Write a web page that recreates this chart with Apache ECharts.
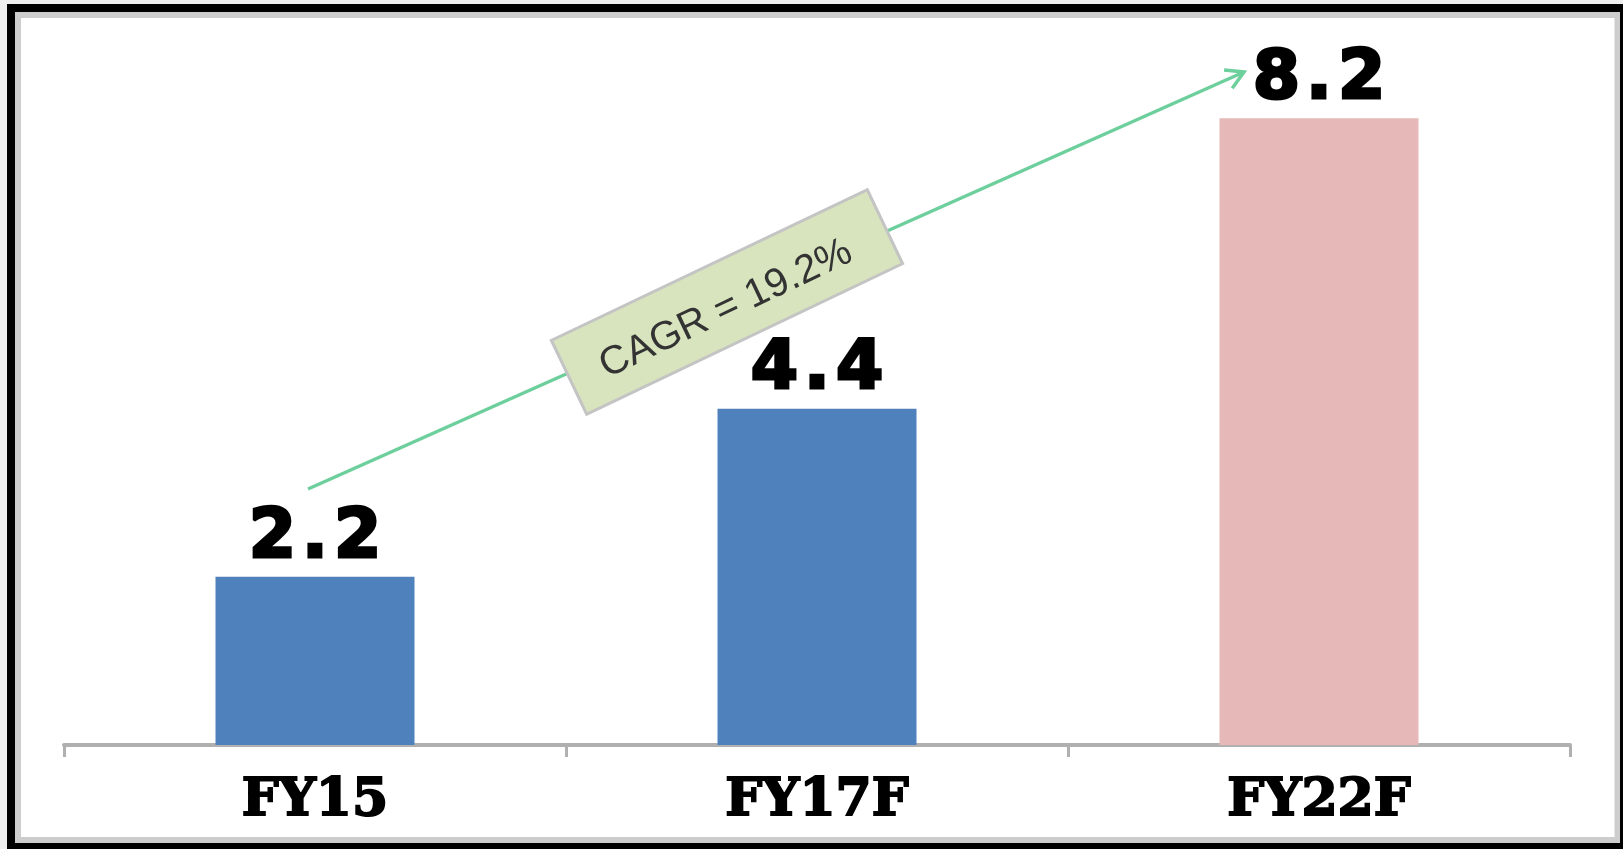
<!DOCTYPE html>
<html>
<head>
<meta charset="utf-8">
<script src="https://cdn.jsdelivr.net/npm/echarts@6/dist/echarts.min.js"></script>
<style>
html,body{margin:0;padding:0;background:#efefef;}
#chart{width:1623px;height:849px;}
</style>
</head>
<body>
<div id="chart"></div>
<script>
const categories = ['FY15', 'FY17F', 'FY22F'];
const values = [2.2, 4.4, 8.2];
const barColors = ['#4F81BD', '#4F81BD', '#E6B8B7'];
const cagrText = 'CAGR = 19.2%';

const chart = echarts.init(document.getElementById('chart'), null, {renderer: 'canvas'});

// arrow geometry (annotation)
const a0 = [308, 489], a1 = [1244, 72];
const dx = a1[0] - a0[0], dy = a1[1] - a0[1];
const len = Math.sqrt(dx * dx + dy * dy);
const ux = dx / len, uy = dy / len;
const hl = 20, ang = Math.PI / 6;
function rot(x, y, t) { return [x * Math.cos(t) - y * Math.sin(t), x * Math.sin(t) + y * Math.cos(t)]; }
const h1 = rot(-ux * hl, -uy * hl, ang), h2 = rot(-ux * hl, -uy * hl, -ang);

const boxW = 350, boxH = 82;
const boxAngle = 25.5 * Math.PI / 180;

chart.setOption({
  backgroundColor: '#efefef',
  animation: false,
  grid: {left: 64, right: 53, top: 15, bottom: 104, containLabel: false, show: false},
  xAxis: {
    type: 'category',
    data: categories,
    axisLine: {lineStyle: {color: '#b0b0b0', width: 4}},
    axisTick: {show: true, length: 12, lineStyle: {color: '#b0b0b0', width: 3}},
    axisLabel: {
      margin: 30,
      fontFamily: 'DejaVu Serif',
      fontWeight: 'bold',
      fontSize: 52,
      color: '#000000',
      textBorderColor: '#000000',
      textBorderWidth: 2
    }
  },
  yAxis: {
    type: 'value', min: 0, max: 9.55,
    show: false,
    splitLine: {show: false}
  },
  series: [{
    type: 'bar',
    barWidth: 199,
    data: values.map((v, i) => ({value: v, itemStyle: {color: barColors[i]}})),
    label: {
      show: true,
      position: 'top',
      distance: 4,
      formatter: function (p) {
        return String(p.value).split('').map(c => c === '.' ? '{p|.}' : '{d|' + c + '}').join('');
      },
      rich: {
        d: {fontFamily: 'DejaVu Sans', fontWeight: 'bold', fontSize: 68, color: '#000', textBorderColor: '#000', textBorderWidth: 3, padding: [0, 4, 0, 4]},
        p: {fontFamily: 'DejaVu Sans', fontWeight: 'bold', fontSize: 68, color: '#000', textBorderColor: '#000', textBorderWidth: 3, padding: [0, 2, 0, 2]}
      }
    }
  }],
  graphic: [
    {type: 'rect', z: -10, shape: {x: 15, y: 12, width: 1605, height: 831}, style: {fill: '#ffffff'}},
    {type: 'rect', z: 100, shape: {x: 11, y: 8, width: 1613, height: 839}, style: {fill: null, stroke: '#000000', lineWidth: 8}},
    {type: 'rect', z: 99, shape: {x: 18, y: 15, width: 1599.5, height: 825}, style: {fill: null, stroke: '#cdcdcd', lineWidth: 6}},
    {type: 'line', z: 50, shape: {x1: a0[0], y1: a0[1], x2: a1[0], y2: a1[1]}, style: {stroke: '#6CCF9C', lineWidth: 3.5}},
    {type: 'polyline', z: 50, shape: {points: [[a1[0] + h1[0], a1[1] + h1[1]], a1, [a1[0] + h2[0], a1[1] + h2[1]]]}, style: {stroke: '#6CCF9C', lineWidth: 3.5, fill: null}},
    {
      type: 'group', z: 60, x: 727, y: 302, rotation: boxAngle,
      children: [
        {type: 'rect', z: 60, shape: {x: -boxW / 2, y: -boxH / 2, width: boxW, height: boxH}, style: {fill: '#D7E4BD', stroke: '#c4c4c4', lineWidth: 3}},
        {type: 'text', z: 61, x: -4, y: 6, style: {text: cagrText, fill: '#333333', font: '40px "Liberation Sans"', textAlign: 'center', textVerticalAlign: 'middle'}}
      ]
    }
  ]
});
</script>
</body>
</html>
